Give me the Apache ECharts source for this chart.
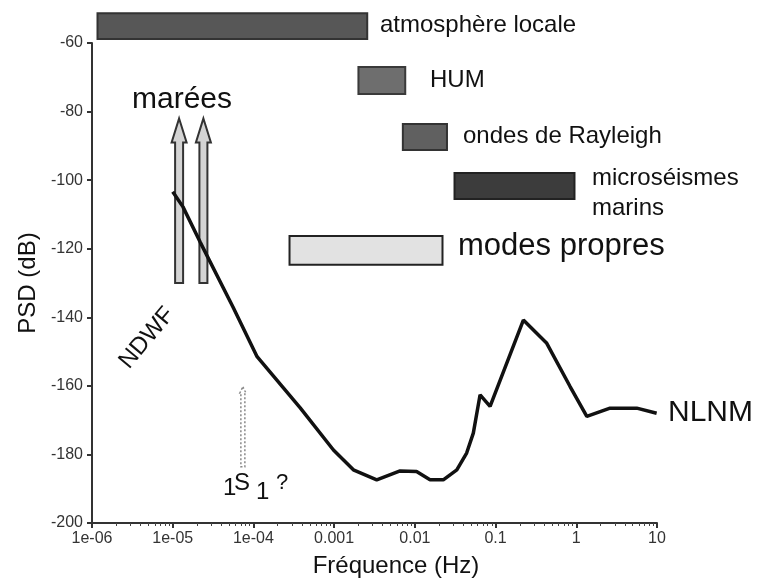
<!DOCTYPE html>
<html>
<head>
<meta charset="utf-8">
<script src="https://cdn.jsdelivr.net/npm/echarts@6/dist/echarts.min.js"></script>
<style>
html, body { margin: 0; padding: 0; background: #fff; }
#main { width: 757px; height: 584px; }
</style>
</head>
<body>
<div id="main"></div>
<script>
// courbe NLNM (frequence en Hz, PSD en dB)
var nlnmFreq = [1.0e-5, 1.34e-5, 2.18e-5, 5.58e-5, 1.11e-4, 3.8e-4, 9.8e-4, 1.73e-3, 3.37e-3, 6.56e-3, 1.05e-2, 1.54e-2, 2.25e-2, 3.31e-2, 4.38e-2, 5.3e-2, 6.43e-2, 8.55e-2, 0.221, 0.431, 0.838, 1.35, 2.62, 5.61, 9.9];
var nlnmPsd = [-103.4, -107.8, -118.0, -137.0, -151.5, -166.4, -178.7, -184.5, -187.4, -184.8, -185.0, -187.4, -187.4, -184.5, -179.6, -173.8, -162.6, -166.0, -140.8, -147.6, -160.2, -168.9, -166.5, -166.5, -168.0];

// bandes de sources : [fmin, fmax, psdHaut, psdBas]
var bandNames = ['atmosphère locale', 'HUM', 'ondes de Rayleigh', 'microséismes marins', 'modes propres'];
var bandFreqMin = [1.17e-6, 2.0e-3, 7.1e-3, 3.1e-2, 2.8e-4];
var bandFreqMax = [2.57e-3, 7.6e-3, 2.5e-2, 0.95, 2.2e-2];
var bandPsdTop = [-51.3, -67.0, -83.6, -97.9, -116.3];
var bandPsdBottom = [-58.8, -74.9, -91.2, -105.5, -124.7];

// fleches des marees
var tideFreq = [1.2e-5, 2.4e-5];
var tidePsdTop = -82;
var tidePsdBottom = -130;

// mode 1S1
var s1Freq = 7.4e-5;
var s1PsdTop = -160.3;
var s1PsdBottom = -183.6;

var xTickLabels = ['1e-06', '1e-05', '1e-04', '0.001', '0.01', '0.1', '1', '10'];

var bandColors = ['#575757', '#6e6e6e', '#606060', '#3c3c3c', '#e2e2e2'];
var bandBorders = ['#333', '#3a3a3a', '#333', '#222', '#222'];

var myChart = echarts.init(document.getElementById('main'));

var nlnmData = [];
for (var i = 0; i < nlnmFreq.length; i++) {
	nlnmData.push([nlnmFreq[i], nlnmPsd[i]]);
}
var bandData = [];
for (var i = 0; i < bandNames.length; i++) {
	bandData.push([bandFreqMin[i], bandFreqMax[i], bandPsdTop[i], bandPsdBottom[i], i]);
}
var tideData = [];
for (var i = 0; i < tideFreq.length; i++) {
	tideData.push([tideFreq[i], tidePsdTop, tidePsdBottom]);
}

var labelFont = 'Liberation Sans, Arial, sans-serif';

function textEl(txt, x, y, size) {
	return {
		type : 'text',
		left : x,
		top : y,
		style : {
			text : txt,
			fill : '#111',
			font : size + 'px ' + labelFont
		}
	};
}

var option = {
	animation : false,
	backgroundColor : '#fff',
	grid : {
		left : 92,
		right : 100,
		top : 43,
		bottom : 61
	},
	xAxis : {
		type : 'log',
		logBase : 10,
		min : 1e-6,
		max : 10,
		name : 'Fréquence (Hz)',
		nameLocation : 'middle',
		nameGap : 31,
		nameTextStyle : {
			fontSize : 24,
			color : '#111',
			fontFamily : labelFont,
			padding : [0, 0, 0, 43]
		},
		axisLine : { lineStyle : { color : '#333', width : 2 } },
		axisTick : { show : true, length : 5, lineStyle : { color : '#333', width : 2 } },
		minorTick : { show : true, splitNumber : 9, length : 3, lineStyle : { color : '#444', width : 1 } },
		splitLine : { show : false },
		axisLabel : {
			margin : 8,
			fontSize : 16,
			color : '#333',
			fontFamily : labelFont,
			formatter : function(v) {
				var idx = Math.round(Math.log(v) / Math.LN10) + 6;
				return xTickLabels[idx] || '';
			}
		}
	},
	yAxis : {
		type : 'value',
		min : -200,
		max : -60,
		interval : 20,
		name : 'PSD (dB)',
		nameLocation : 'middle',
		nameGap : 52,
		nameTextStyle : {
			fontSize : 24,
			color : '#111',
			fontFamily : labelFont
		},
		axisLine : { show : true, lineStyle : { color : '#333', width : 2 } },
		axisTick : { show : true, length : 5, lineStyle : { color : '#333', width : 2 } },
		splitLine : { show : false },
		axisLabel : {
			margin : 9,
			fontSize : 16,
			color : '#333',
			fontFamily : labelFont
		}
	},
	series : [ {
		name : 'bandes',
		type : 'custom',
		clip : false,
		data : bandData,
		encode : { x : [0, 1], y : [2, 3] },
		renderItem : function(params, api) {
			var p1 = api.coord([api.value(0), api.value(2)]);
			var p2 = api.coord([api.value(1), api.value(3)]);
			var idx = api.value(4);
			return {
				type : 'rect',
				shape : { x : p1[0], y : p1[1], width : p2[0] - p1[0], height : p2[1] - p1[1] },
				style : { fill : bandColors[idx], stroke : bandBorders[idx], lineWidth : 2 }
			};
		}
	}, {
		name : 'marées',
		type : 'custom',
		clip : false,
		data : tideData,
		encode : { x : 0, y : [1, 2] },
		renderItem : function(params, api) {
			var top = api.coord([api.value(0), api.value(1)]);
			var bot = api.coord([api.value(0), api.value(2)]);
			var cx = top[0], sw = 4, hw = 7.5, hl = 24;
			return {
				type : 'polygon',
				shape : {
					points : [
						[cx, top[1]],
						[cx + hw, top[1] + hl],
						[cx + sw, top[1] + hl],
						[cx + sw, bot[1]],
						[cx - sw, bot[1]],
						[cx - sw, top[1] + hl],
						[cx - hw, top[1] + hl]
					]
				},
				style : { fill : '#d4d4d4', stroke : '#333', lineWidth : 2 }
			};
		}
	}, {
		name : '1S1',
		type : 'custom',
		clip : false,
		data : [ [s1Freq, s1PsdTop, s1PsdBottom] ],
		encode : { x : 0, y : [1, 2] },
		renderItem : function(params, api) {
			var top = api.coord([api.value(0), api.value(1)]);
			var bot = api.coord([api.value(0), api.value(2)]);
			var cx = top[0];
			return {
				type : 'polygon',
				shape : {
					points : [
						[cx, top[1]],
						[cx + 3, top[1] + 6],
						[cx + 2, top[1] + 6],
						[cx + 2, bot[1]],
						[cx - 2, bot[1]],
						[cx - 2, top[1] + 6],
						[cx - 3, top[1] + 6]
					]
				},
				style : { fill : 'none', stroke : '#888', lineWidth : 1.5, lineDash : [2, 2] }
			};
		}
	}, {
		name : 'NLNM',
		type : 'line',
		data : nlnmData,
		showSymbol : false,
		smooth : false,
		lineStyle : { color : '#111', width : 3.5 },
		z : 5
	} ],
	graphic : [
		textEl('atmosphère locale', 380, 13, 24),
		textEl('HUM', 430, 68, 24),
		textEl('ondes de Rayleigh', 463, 124, 24),
		textEl('microséismes', 592, 166, 24),
		textEl('marins', 592, 196, 24),
		textEl('modes propres', 458, 231, 31),
		textEl('marées', 132, 85, 30),
		textEl('NLNM', 668, 398, 30),
		{
			type : 'text',
			x : 147,
			y : 338,
			rotation : 50 * Math.PI / 180,
			style : {
				text : 'NDWF',
				fill : '#111',
				font : '24px ' + labelFont,
				align : 'center',
				verticalAlign : 'middle'
			}
		},
		textEl('1', 223, 476, 24),
		textEl('S', 234, 471, 24),
		textEl('1', 256, 480, 24),
		textEl('?', 276, 472, 22)
	]
};

myChart.setOption(option);
</script>
</body>
</html>
